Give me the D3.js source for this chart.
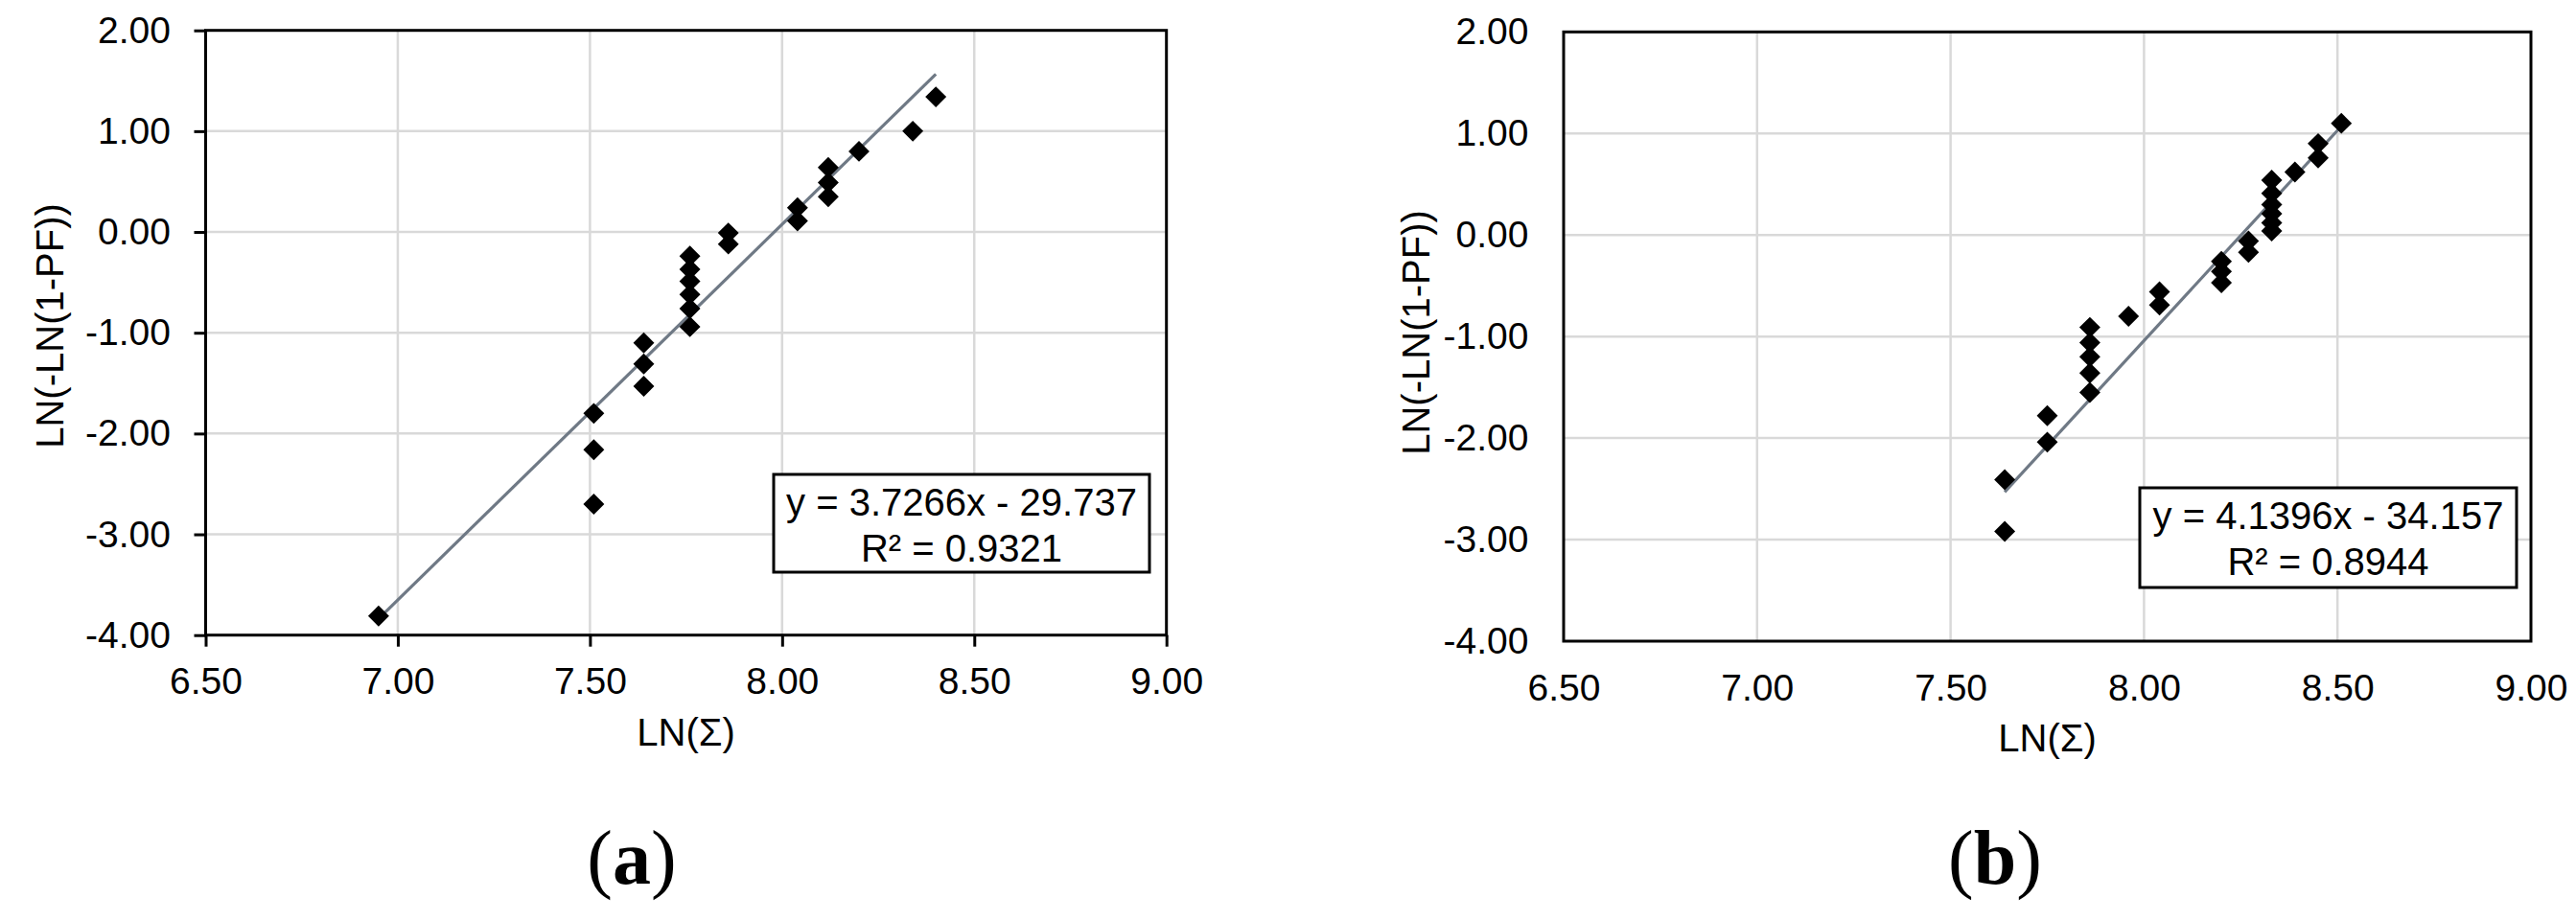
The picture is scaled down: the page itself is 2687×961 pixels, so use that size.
<!DOCTYPE html>
<html>
<head>
<meta charset="utf-8">
<script src="https://cdn.jsdelivr.net/npm/d3@7"></script>
<style>
  body { margin: 0; background: #fff; }
  text { font-family: "Liberation Sans", Arial, sans-serif; fill: #000; }
</style>
</head>
<body>
<div id="chart"></div>
<script>
var w = 2687,
    h = 961;

// axis ticks (same for both panels)
var xTicks = [6.5, 7.0, 7.5, 8.0, 8.5, 9.0];
var yTicks = [-4, -3, -2, -1, 0, 1, 2];

// panel (a) points
var xA = [6.95, 7.51, 7.51, 7.51, 7.64, 7.64, 7.64, 7.76, 7.76, 7.76, 7.76, 7.76, 7.76,
          7.86, 7.86, 8.04, 8.04, 8.12, 8.12, 8.12, 8.20, 8.34, 8.40];
var yA = [-3.81, -1.80, -2.16, -2.70, -1.10, -1.31, -1.53, -0.24, -0.37, -0.49, -0.62, -0.76, -0.94,
          -0.01, -0.12, 0.24, 0.11, 0.64, 0.49, 0.35, 0.80, 1.00, 1.34];

// panel (b) points
var xB = [7.64, 7.64, 7.75, 7.75, 7.86, 7.86, 7.86, 7.86, 7.86, 7.96, 8.04, 8.04,
          8.20, 8.20, 8.20, 8.27, 8.27, 8.33, 8.33, 8.33, 8.33, 8.33, 8.33, 8.39, 8.45, 8.45, 8.51];
var yB = [-2.41, -2.92, -1.78, -2.04, -0.91, -1.06, -1.20, -1.36, -1.55, -0.80, -0.56, -0.69,
          -0.26, -0.36, -0.47, -0.06, -0.17, 0.54, 0.41, 0.30, 0.21, 0.12, 0.04, 0.62, 0.76, 0.90, 1.10];

// trendline equations shown in the boxes
var slopes = [3.7266, 4.1396];
var intercepts = [-29.737, -34.157];
var r2 = ["0.9321", "0.8944"];
var letters = ["a", "b"];

var fmt = d3.formatLocale({ decimal: ".", thousands: ",", grouping: [3], currency: ["", ""], minus: "-" }).format(".2f");

var svg = d3.select("#chart").append("svg")
    .attr("width", w)
    .attr("height", h)
    .attr("viewBox", "0 0 " + w + " " + h);

var panels = [
    { xs: xA, ys: yA, left: 214.5, right: 1216.7, top: 31.7, bottom: 662.7, tick: 12,
      box: [807, 495, 392, 102], ytitle: [52, 340], letterX: 659 },
    { xs: xB, ys: yB, left: 1631, right: 2640, top: 33.3, bottom: 669, tick: 0,
      box: [2232, 509, 393, 104], ytitle: [1477, 347], letterX: 2081 }
];

panels.forEach(function(p, i) {
    var x = d3.scaleLinear().domain([6.5, 9]).range([p.left, p.right]);
    var y = d3.scaleLinear().domain([-4, 2]).range([p.bottom, p.top]);
    var g = svg.append("g");

    // gridlines
    g.selectAll(".vgrid").data(xTicks.slice(1, -1)).enter().append("line")
        .attr("x1", function(d) { return x(d); })
        .attr("x2", function(d) { return x(d); })
        .attr("y1", p.top).attr("y2", p.bottom)
        .style("stroke", "#d9d9d9").style("stroke-width", 2.5);
    g.selectAll(".hgrid").data(yTicks.slice(1, -1)).enter().append("line")
        .attr("y1", function(d) { return y(d); })
        .attr("y2", function(d) { return y(d); })
        .attr("x1", p.left).attr("x2", p.right)
        .style("stroke", "#d9d9d9").style("stroke-width", 2.5);

    // axes
    var ax = g.append("g")
        .attr("transform", "translate(0," + p.bottom + ")")
        .call(d3.axisBottom(x).tickValues(xTicks).tickFormat(fmt)
            .tickSize(p.tick).tickSizeOuter(0).tickPadding(34 - p.tick));
    var ay = g.append("g")
        .attr("transform", "translate(" + p.left + ",0)")
        .call(d3.axisLeft(y).tickValues(yTicks).tickFormat(fmt)
            .tickSize(p.tick).tickSizeOuter(0).tickPadding(36.5 - p.tick));
    [ax, ay].forEach(function(a) {
        a.select(".domain").remove();
        a.selectAll("line").style("stroke", "#000").style("stroke-width", 3);
        a.selectAll("text").style("font-size", "39px").style("font-family", "'Liberation Sans', Arial, sans-serif").attr("fill", "#000");
    });

    // frame
    g.append("rect")
        .attr("x", p.left).attr("y", p.top)
        .attr("width", p.right - p.left).attr("height", p.bottom - p.top)
        .style("fill", "none").style("stroke", "#000").style("stroke-width", 3);

    // trendline
    var ext = d3.extent(p.xs);
    var line = d3.line()
        .x(function(d) { return x(d); })
        .y(function(d) { return y(slopes[i] * d + intercepts[i]); });
    g.append("path")
        .datum(ext)
        .attr("d", line)
        .style("fill", "none").style("stroke", "#6f7985").style("stroke-width", 3.2);

    // markers
    var sym = d3.symbol().type(d3.symbolSquare).size(240);
    g.selectAll(".pt").data(p.xs).enter().append("path")
        .attr("d", sym)
        .attr("transform", function(d, j) {
            return "translate(" + x(d) + "," + y(p.ys[j]) + ") rotate(45)";
        })
        .style("fill", "#000");

    // equation box
    var b = p.box;
    g.append("rect")
        .attr("x", b[0]).attr("y", b[1]).attr("width", b[2]).attr("height", b[3])
        .style("fill", "#fff").style("stroke", "#000").style("stroke-width", 3);
    g.append("text")
        .attr("x", b[0] + b[2] / 2).attr("y", b[1] + 43)
        .attr("text-anchor", "middle").style("font-size", "40px")
        .text("y = " + slopes[i] + "x - " + Math.abs(intercepts[i]));
    g.append("text")
        .attr("x", b[0] + b[2] / 2).attr("y", b[1] + 91)
        .attr("text-anchor", "middle").style("font-size", "40px")
        .text("R\u00b2 = " + r2[i]);

    // axis titles
    g.append("text")
        .attr("x", (p.left + p.right) / 2).attr("y", p.bottom + 115)
        .attr("text-anchor", "middle").style("font-size", "40px")
        .text("LN(\u03a3)");
    g.append("text")
        .attr("transform", "translate(" + p.ytitle[0] + "," + p.ytitle[1] + ") rotate(-90)")
        .attr("dy", "0.35em")
        .attr("text-anchor", "middle").style("font-size", "40px")
        .text("LN(-LN(1-PF))");

    // panel letter
    var lt = g.append("text")
        .attr("x", p.letterX).attr("y", 922)
        .attr("text-anchor", "middle")
        .style("font-family", "'Liberation Serif', 'Times New Roman', serif")
        .style("font-size", "80px");
    lt.append("tspan").text("(");
    lt.append("tspan").style("font-weight", "bold").text(letters[i]);
    lt.append("tspan").text(")");
});
</script>
</body>
</html>
